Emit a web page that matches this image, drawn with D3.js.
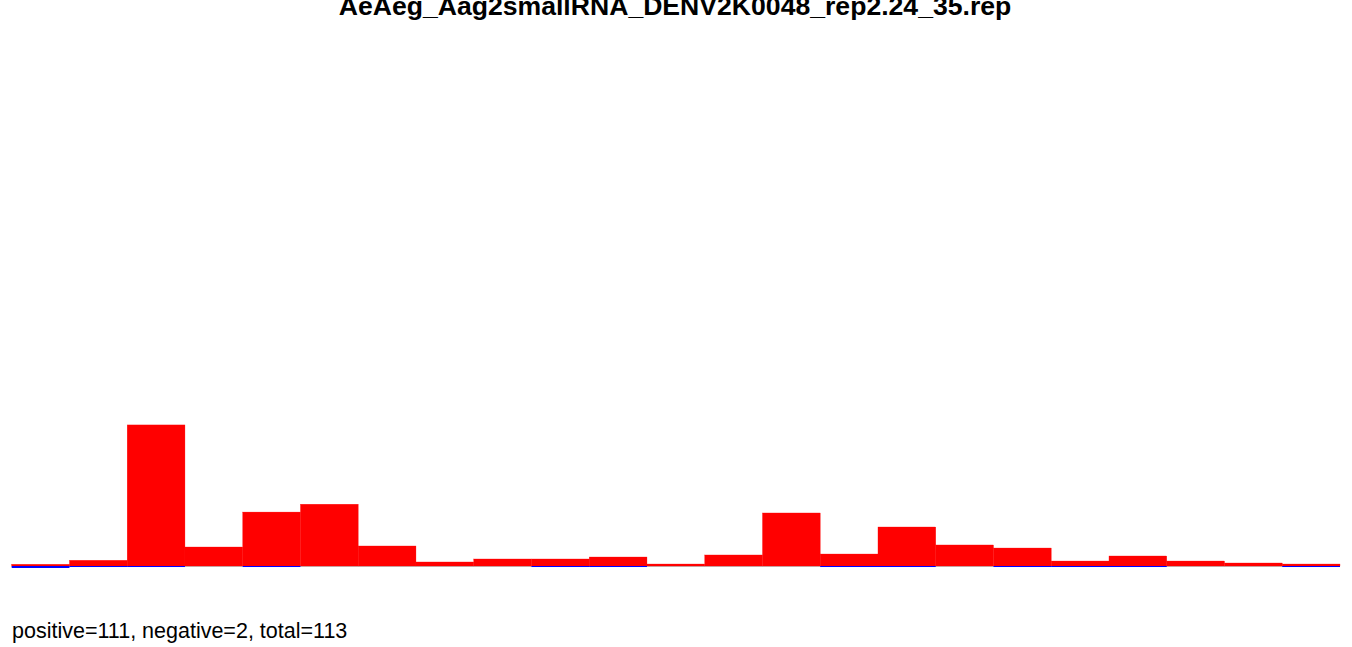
<!DOCTYPE html>
<html>
<head>
<meta charset="utf-8">
<script src="https://cdn.jsdelivr.net/npm/d3@7"></script>
<style>
  html, body { margin: 0; padding: 0; background: #fff; }
  svg { display: block; }
</style>
</head>
<body>
<svg id="chart" width="1352" height="647"></svg>
<script>
const titleText = "AeAeg_Aag2smallRNA_DENV2K0048_rep2.24_35.rep";
const footerText = "positive=111, negative=2, total=113";
const bins = d3.range(1, 24);
const positive = [0.37, 1.24, 30.6, 4.12, 11.7, 13.4, 4.34, 0.87, 1.52, 1.52, 1.95, 0.43, 2.39, 11.5, 2.6, 8.46, 4.56, 3.9, 1.08, 2.17, 1.08, 0.65, 0.43];
const negative = [-0.43, -0.22, -0.22, 0, -0.22, 0, 0, 0, 0, -0.22, -0.22, 0, 0, 0, -0.22, -0.22, 0, -0.22, -0.22, -0.22, 0, 0, -0.22];

const svg = d3.select("#chart");
const x = d3.scaleBand().domain(bins).range([11.7, 1340]).paddingInner(0).paddingOuter(0);
const k = 4.61;
const base = 566;
const y = d3.scaleLinear().domain([-10, 100]).range([base + 10 * k, base - 100 * k]);

svg.append("text")
  .attr("x", 675).attr("y", 14.5)
  .attr("text-anchor", "middle")
  .attr("font-family", "Liberation Sans, Arial, sans-serif")
  .attr("font-weight", "bold")
  .attr("font-size", 26.6)
  .text(titleText);

// baseline
svg.append("line")
  .attr("x1", x.range()[0]).attr("x2", x.range()[1])
  .attr("y1", y(0) + 0.5).attr("y2", y(0) + 0.5)
  .attr("stroke", "#bebebe").attr("stroke-width", 1);

svg.append("g").selectAll("rect").data(bins).join("rect")
  .attr("x", d => x(d))
  .attr("width", x.bandwidth())
  .attr("y", (d, i) => y(positive[i]))
  .attr("height", (d, i) => y(0) - y(positive[i]))
  .attr("fill", "#ff0000")
  .attr("stroke", "#ff0000").attr("stroke-width", 0.3);

svg.append("g").selectAll("rect").data(bins).join("rect")
  .attr("x", d => x(d))
  .attr("width", x.bandwidth())
  .attr("y", y(0))
  .attr("height", (d, i) => y(negative[i]) - y(0))
  .attr("fill", "#0000ff");

svg.append("text")
  .attr("x", 12).attr("y", 638)
  .attr("font-family", "Liberation Sans, Arial, sans-serif")
  .attr("font-size", 21.5)
  .text(footerText);
</script>
</body>
</html>
